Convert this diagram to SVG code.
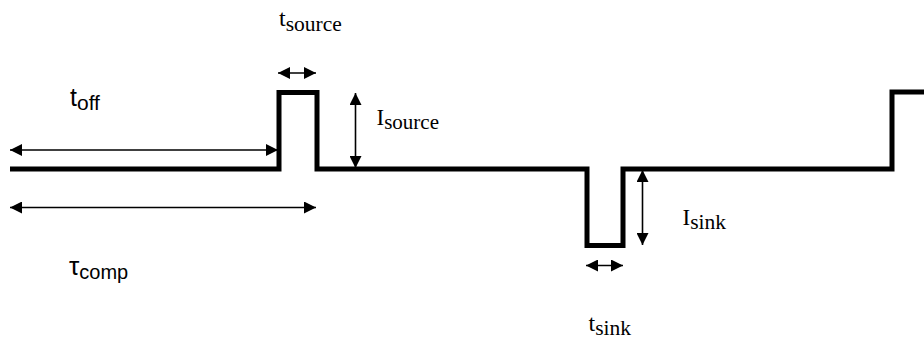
<svg xmlns="http://www.w3.org/2000/svg" width="924" height="343" viewBox="0 0 924 343">
<style>
.wave{fill:none;stroke:#000;stroke-width:5;stroke-linejoin:miter;stroke-linecap:butt}
.dim{fill:none;stroke:#000;stroke-width:1.6;marker-start:url(#ah);marker-end:url(#ah)}
.sans{font-family:"Liberation Sans",Arial,sans-serif;fill:#000}
.serif{font-family:"Liberation Serif","Times New Roman",serif;fill:#000}
</style>
<defs>
<marker id="ah" viewBox="0 0 12 12" refX="12" refY="6" markerWidth="13" markerHeight="12" markerUnits="userSpaceOnUse" orient="auto-start-reverse">
<path d="M0,0 L12,6 L0,12 Z" fill="#000"/>
</marker>
</defs>
<g id="waveform">
<path class="wave" d="M10,169 H279 V92.5 H317 V169 H587 V245.5 H623 V169 H892 V92 H924"/>
</g>
<g id="connectors">
<line class="dim" x1="10" y1="150" x2="278" y2="150"/>
<line class="dim" x1="10" y1="207.5" x2="316" y2="207.5"/>
<line class="dim" x1="278" y1="73" x2="316" y2="73"/>
<line class="dim" x1="355.5" y1="93" x2="355.5" y2="168"/>
<line class="dim" x1="586" y1="265.5" x2="623" y2="265.5"/>
<line class="dim" x1="642.5" y1="170" x2="642.5" y2="245"/>
</g>
<g id="label-toff"><text class="sans" x="70" y="106" font-size="25">t<tspan font-size="21" dy="4">off</tspan></text></g>
<g id="label-tsource"><text class="serif" x="279" y="26" font-size="24">t<tspan font-size="21.5" dy="5">source</tspan></text></g>
<g id="label-isource"><text class="serif" x="376.5" y="125" font-size="23">I<tspan font-size="21" dy="4">source</tspan></text></g>
<g id="label-tcomp"><text class="sans" x="69" y="275" font-size="26">τ<tspan font-size="20" dy="4">comp</tspan></text></g>
<g id="label-isink"><text class="serif" x="682.5" y="225" font-size="23">I<tspan font-size="21.5" dy="4">sink</tspan></text></g>
<g id="label-tsink"><text class="serif" x="588.5" y="331" font-size="24">t<tspan font-size="21.5" dy="4.3">sink</tspan></text></g>
</svg>
